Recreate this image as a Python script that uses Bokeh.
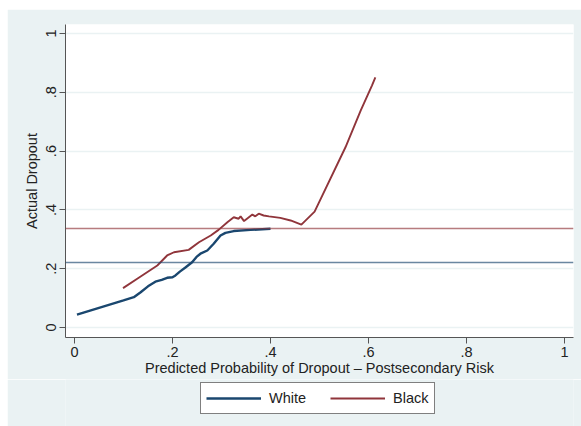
from bokeh.plotting import figure
from bokeh.layouts import column
from bokeh.models import FixedTicker, Legend, LegendItem, Span
from bokeh.embed import file_html
from bokeh.resources import INLINE

# Smoothed actual dropout by predicted probability, by group
white_x = [0.005, 0.05, 0.10, 0.121, 0.135, 0.15, 0.165, 0.178, 0.189, 0.200, 0.206,
           0.215, 0.227, 0.240, 0.249, 0.257, 0.271, 0.284, 0.298, 0.308, 0.325, 0.359, 0.40]
white_y = [0.044, 0.067, 0.092, 0.103, 0.120, 0.140, 0.156, 0.162, 0.169, 0.171, 0.177,
           0.190, 0.205, 0.222, 0.240, 0.251, 0.262, 0.285, 0.313, 0.322, 0.328, 0.332, 0.336]

black_x = [0.099, 0.128, 0.169, 0.189, 0.203, 0.233, 0.254, 0.278, 0.294, 0.312, 0.325,
           0.335, 0.339, 0.346, 0.352, 0.363, 0.369, 0.376, 0.386, 0.397, 0.420, 0.441,
           0.463, 0.490, 0.553, 0.584, 0.607, 0.614]
black_y = [0.134, 0.166, 0.211, 0.245, 0.256, 0.264, 0.290, 0.313, 0.332, 0.358, 0.375,
           0.370, 0.378, 0.362, 0.370, 0.384, 0.378, 0.387, 0.381, 0.378, 0.373, 0.364,
           0.350, 0.394, 0.613, 0.738, 0.823, 0.851]

# Group mean dropout rates
white_mean = 0.221
black_mean = 0.337

groups = ["White", "Black"]

ticks = [0, 0.2, 0.4, 0.6, 0.8, 1]
tick_labels = ["0", ".2", ".4", ".6", ".8", "1"]

NAVY = "#1a476f"
MAROON = "#90353b"
BG = "#eaf2f3"
FONT = "Liberation Sans"
FS = "14.5px"

# Main plot
p = figure(frame_width=508, frame_height=313, margin=(9, 0, 0, 7),
           x_range=(-0.0184, 1.0184), y_range=(-0.034, 1.0306),
           output_backend="svg", toolbar_location=None,
           min_border_left=58, min_border_right=8,
           min_border_top=15, min_border_bottom=42)
p.border_fill_color = BG
p.background_fill_color = "white"
p.outline_line_color = None

for ax in (p.xaxis[0], p.yaxis[0]):
    ax.ticker = FixedTicker(ticks=ticks)
    ax.major_label_overrides = dict(zip(ticks, tick_labels))
    ax.minor_tick_line_color = None
    ax.major_tick_out = 6
    ax.major_tick_in = 0
    ax.axis_line_color = "#555555"
    ax.major_tick_line_color = "#555555"
    ax.major_label_text_font = FONT
    ax.major_label_text_font_size = FS
    ax.major_label_text_color = "#222222"
    ax.axis_label_text_font = FONT
    ax.axis_label_text_font_size = FS
    ax.axis_label_text_font_style = "normal"
    ax.axis_label_text_color = "#222222"

p.xaxis.axis_label = "Predicted Probability of Dropout \u2013 Postsecondary Risk"
p.yaxis.axis_label = "Actual Dropout"
p.yaxis.major_label_orientation = "vertical"
p.xaxis.major_label_standoff = 3
p.yaxis.major_label_standoff = 3
p.xaxis.axis_label_standoff = 0
p.yaxis.axis_label_standoff = 4

p.xgrid.grid_line_color = None
p.ygrid.ticker = FixedTicker(ticks=ticks)
p.ygrid.grid_line_color = BG
p.ygrid.grid_line_width = 1.5

# Mean reference lines
p.add_layout(Span(location=black_mean, dimension="width",
                  line_color=MAROON, line_alpha=0.65, line_width=1.5))
p.add_layout(Span(location=white_mean, dimension="width",
                  line_color=NAVY, line_alpha=0.65, line_width=1.5))

p.line(white_x, white_y, line_color=NAVY, line_width=2.4)
p.line(black_x, black_y, line_color=MAROON, line_width=1.9)

# Legend strip underneath the plot (no axes, frame fills the strip)
lg = figure(width=574, height=47, margin=(0, 0, 0, 7),
            x_range=(0, 1), y_range=(0, 1),
            x_axis_location=None, y_axis_location=None,
            output_backend="svg", toolbar_location=None,
            min_border=0)
lg.grid.grid_line_color = None
lg.outline_line_color = None
lg.background_fill_color = BG
lg.border_fill_color = BG
# single-point key renderers: they only supply the legend swatches
key_white = lg.line([-1], [-1], line_color=NAVY, line_width=2.4)
key_black = lg.line([-1], [-1], line_color=MAROON, line_width=1.9)

legend = Legend(items=[LegendItem(label=groups[0], renderers=[key_white]),
                       LegendItem(label=groups[1], renderers=[key_black])],
                orientation="horizontal", location=(135, 12))
legend.background_fill_color = "white"
legend.background_fill_alpha = 1
legend.border_line_color = "black"
legend.border_line_width = 1
legend.label_text_font = FONT
legend.label_text_font_size = FS
legend.label_text_color = "#222222"
legend.glyph_width = 55
legend.label_standoff = 8
legend.spacing = 24
legend.padding = 5
legend.margin = 0
lg.add_layout(legend)

layout = column(p, lg, spacing=0)
open("out.html", "w").write(file_html(layout, INLINE))
